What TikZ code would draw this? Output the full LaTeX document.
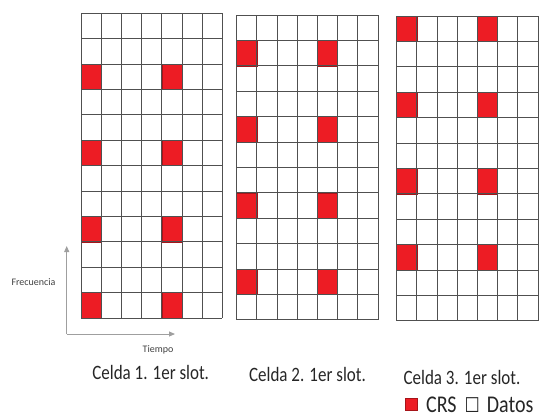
\documentclass[tikz,border=0pt]{standalone}
\usepackage{fontspec}
\setmainfont{Carlito}
\newfontfamily\symfont{DejaVu Sans}
\usetikzlibrary{arrows.meta}
\definecolor{crsred}{RGB}{237,28,36}
\definecolor{linegray}{RGB}{80,80,80}
\newcommand{\tallcap}[1]{\scalebox{1}[1.2]{#1}}

\begin{document}
\begin{tikzpicture}[x=1pt, y=-1pt,
	cellline/.style={linegray, line width=0.9pt},
	crs/.style={fill=crsred, draw=crsred!70!black, line width=0.6pt},
	axisline/.style={gray!75, line width=1pt, -{Triangle[length=6pt, width=5pt]}},
	caption/.style={font=\fontsize{17}{20}\selectfont, text=black!85, anchor=base, inner sep=0pt}]
	\useasboundingbox (0,0) rectangle (540,418);
	\foreach \gx/\gy/\off in {81/13.3/2, 236.7/15/1, 396.7/16/0} {
		\foreach \k in {0,...,3}
			\foreach \c in {0,4}
				\draw[crs] ({\gx+\c*20.2},{\gy+(\off+3*\k)*25.4}) rectangle +(20.2,25.4);
		\foreach \i in {0,...,7}
			\draw[cellline] ({\gx+\i*20.2},\gy) -- +(0,{12*25.4});
		\foreach \j in {0,...,12}
			\draw[cellline] (\gx,{\gy+\j*25.4}) -- +({7*20.2},0);
	}
	\coordinate (origin) at (66.7,334);
	\coordinate (ftip) at (66.7,246);
	\coordinate (ttip) at (175,334);
	\draw[axisline] (origin) -- (ftip);
	\draw[axisline] (origin) -- (ttip);
	\node[font=\fontsize{10}{12}\selectfont, text=black!75] (frec) at (33.5,282) {Frecuencia};
	\node[font=\fontsize{10}{12}\selectfont, text=black!75] (tiempo) at (158,350) {Tiempo};
	\node[caption] (cap1) at (150.7,379.5) {\tallcap{Celda 1. 1er slot.}};
	\node[caption] (cap2) at (307.5,381.5) {\tallcap{Celda 2. 1er slot.}};
	\node[caption] (cap3) at (462,384) {\tallcap{Celda 3. 1er slot.}};
	\node[crs, minimum size=12pt, inner sep=0pt] (crsbox) at (411,404.7) {};
	\node[caption, anchor=base west, font=\fontsize{20}{22}\selectfont] (legtext) at (426,412.5)
		{\tallcap{CRS\hspace{8pt}{\symfont\fontsize{17}{20}\selectfont ☐}\hspace{7pt}Datos}};
\end{tikzpicture}
\end{document}
